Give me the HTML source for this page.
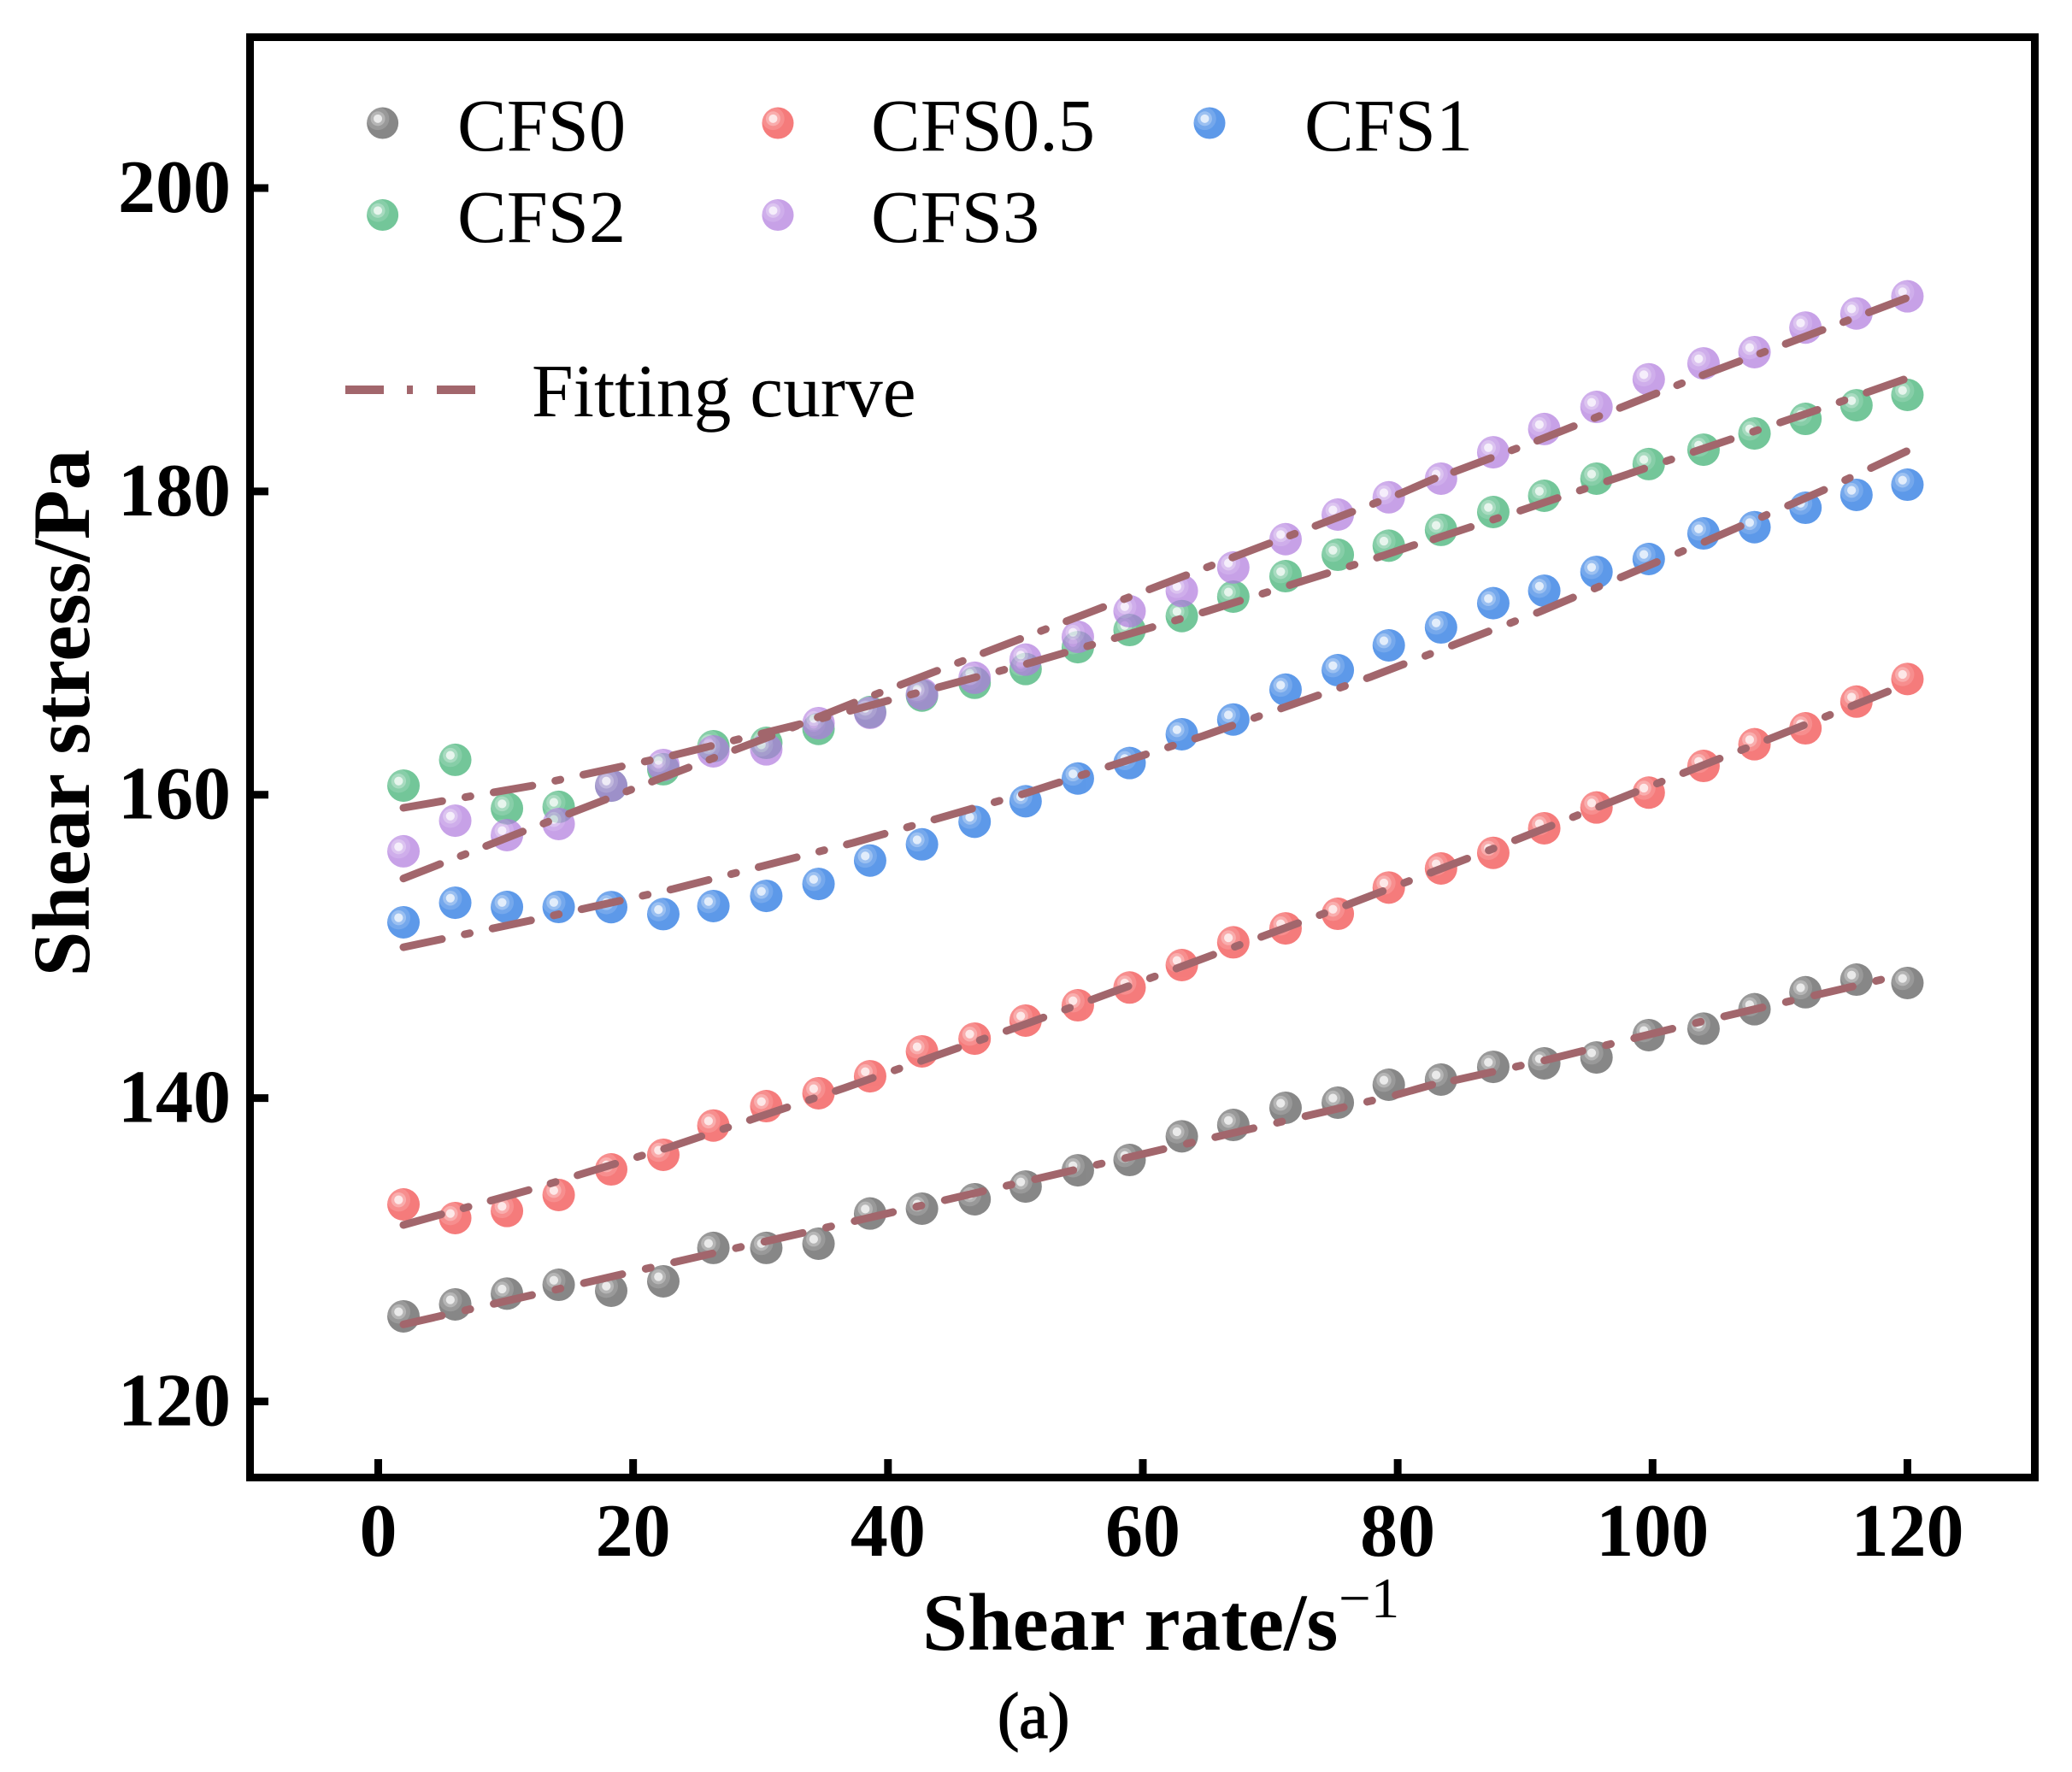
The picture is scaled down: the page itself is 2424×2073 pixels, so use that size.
<!DOCTYPE html>
<html lang="en">
<head>
<meta charset="utf-8">
<title>Shear stress vs shear rate</title>
<style>
  html, body { margin: 0; padding: 0; background: #fff; }
  svg { display: block; }
  text { font-family: "Liberation Serif", "Times New Roman", serif; fill: #000; }
  .tick-label { font-size: 88px; font-weight: 700; }
  .axis-title { font-size: 95px; font-weight: 700; }
  .legend-label { font-size: 86.5px; }
</style>
</head>
<body>
<svg id="chart" xmlns="http://www.w3.org/2000/svg" width="2424" height="2073" viewBox="0 0 2424 2073">
  <rect x="0" y="0" width="2424" height="2073" fill="#ffffff"/>
  <g id="markers"></g>
  <g id="fits"></g>
  <rect x="292.5" y="43.5" width="2088" height="1685" fill="none" stroke="#000" stroke-width="9"/>
  <g id="ticks"></g>
  <text class="axis-title" x="1079" y="1930">Shear rate/s</text>
  <text x="1566" y="1892" font-size="67">−1</text>
  <text class="axis-title" text-anchor="middle" transform="translate(104 834) rotate(-90)">Shear stress/Pa</text>
  <text x="1167" y="2033" font-size="76" stroke="#000" stroke-width="1.4">(a)</text>
  <g id="legend">
    <text class="legend-label" x="535" y="176">CFS0</text>
    <text class="legend-label" x="1019" y="176">CFS0.5</text>
    <text class="legend-label" x="1526" y="176">CFS1</text>
    <text class="legend-label" x="535" y="283">CFS2</text>
    <text class="legend-label" x="1019" y="283">CFS3</text>
    <line x1="404" y1="456" x2="556" y2="456" stroke="#A2666C" stroke-width="10" stroke-dasharray="45 27 7 28"/>
    <text class="legend-label" x="622" y="487" style="font-size:87.5px">Fitting curve</text>
  </g>
</svg>
<script>
const xTickValues = [0, 20, 40, 60, 80, 100, 120];
const yTickValues = [120, 140, 160, 180, 200];

const shearRates = [1.98, 6.04, 10.1, 14.16, 18.28, 22.37, 26.3, 30.45, 34.55, 38.6, 42.67, 46.8, 50.8, 54.9, 58.96, 63.06, 67.1, 71.2, 75.3, 79.3, 83.4, 87.5, 91.5, 95.6, 99.7, 104, 108, 112, 116, 120];

const cfs0Stress = [125.61, 126.40, 127.11, 127.69, 127.30, 127.92, 130.12, 130.12, 130.40, 132.39, 132.71, 133.33, 134.17, 135.24, 135.92, 137.48, 138.23, 139.36, 139.70, 140.88, 141.22, 142.06, 142.29, 142.68, 144.15, 144.58, 145.86, 146.98, 147.81, 147.59];
const cfs05Stress = [132.99, 132.09, 132.56, 133.61, 135.30, 136.26, 138.19, 139.47, 140.32, 141.44, 143.08, 143.92, 145.11, 146.12, 147.29, 148.77, 150.27, 151.19, 152.15, 153.88, 155.14, 156.17, 157.79, 159.16, 160.14, 161.90, 163.33, 164.38, 166.14, 167.63];
const cfs1Stress = [151.59, 152.88, 152.60, 152.60, 152.59, 152.13, 152.66, 153.33, 154.12, 155.66, 156.73, 158.22, 159.57, 161.07, 162.09, 163.99, 164.96, 166.93, 168.21, 169.85, 171.03, 172.63, 173.45, 174.69, 175.54, 177.23, 177.64, 178.92, 179.77, 180.44];
const cfs2Stress = [160.60, 162.30, 159.10, 159.20, 160.60, 161.68, 163.20, 163.42, 164.34, 165.45, 166.54, 167.38, 168.29, 169.73, 170.86, 171.78, 173.06, 174.41, 175.82, 176.42, 177.46, 178.64, 179.71, 180.84, 181.80, 182.75, 183.82, 184.78, 185.68, 186.36];
const cfs3Stress = [156.27, 158.29, 157.34, 158.07, 160.60, 161.96, 162.86, 162.99, 164.72, 165.40, 166.65, 167.71, 168.91, 170.41, 172.10, 173.44, 174.98, 176.85, 178.47, 179.61, 180.84, 182.58, 184.11, 185.57, 187.39, 188.44, 189.18, 190.80, 191.73, 192.86];

const cfs0FitRate = [1.98, 12.15, 23.11, 37.2, 51.35, 65.5, 79.66, 82.71, null, 84.42, 91.64, 103.67, 116.08, 118.23];
const cfs0FitStress = [125.08, 127.03, 129.16, 131.86, 134.62, 137.39, 140.16, 140.88, null, 141.16, 142.51, 145.01, 147.43, 147.87];
const cfs05FitRate = [1.98, 11.97, 22.91, 36.52, 50.81, 62.62, 75.97, 89.42, 102.13, 113.46, 119.96];
const cfs05FitStress = [131.64, 133.97, 136.78, 140.65, 144.88, 148.54, 152.72, 157.07, 161.34, 165.11, 167.31];
const cfs1FitRate = [1.98, 11.9, 23.18, 37.26, 50.81, 64.7, 77.91, 91.13, 104.07, 113.53, 120.1];
const cfs1FitStress = [149.95, 151.70, 153.79, 156.83, 160.10, 163.87, 167.78, 172.06, 176.67, 180.12, 182.71];
const cfs2FitRate = [1.98, 12.11, 23.04, 33.24, 40.42, 51.28, 65.03, 78.85, 81.67, null, 82.81, 89.52, 103.13, 112.72, 119.9];
const cfs2FitStress = [159.14, 160.60, 162.58, 164.68, 166.30, 168.72, 172.10, 175.76, 176.57, null, 176.84, 178.70, 182.58, 185.31, 187.43];
const cfs3FitRate = [1.98, 11.52, 21.7, 31.02, 37.67, 54.47, 67.31, 80.33, 83.35, null, 84.42, 90.92, 103.6, 113.33, 120.04];
const cfs3FitStress = [154.48, 157.63, 160.94, 163.93, 166.18, 171.59, 175.73, 179.90, 181.01, null, 181.29, 183.33, 187.56, 190.64, 192.78];

const NS = 'http://www.w3.org/2000/svg';
const xAxis = function (v) { return 442.5 + 14.908 * v; };
const yAxis = function (v) { return 1639.5 - 17.744 * (v - 120); };

function make(tag, attrs, parent) {
  const el = document.createElementNS(NS, tag);
  for (const k in attrs) el.setAttribute(k, attrs[k]);
  parent.appendChild(el);
  return el;
}

function drawSphere(parent, cx, cy, r, color) {
  const g = make('g', { transform: 'translate(' + cx + ' ' + cy + ')', opacity: 0.7 }, parent);
  const base = make('circle', { r: r, fill: color }, g);
  
  
  const hx = -r * 0.3, hy = -r * 0.28;
  make('circle', { cx: hx, cy: hy, r: r * 0.72, fill: '#fff', 'fill-opacity': 0.15 }, g);
  make('circle', { cx: hx, cy: hy, r: r * 0.46, fill: '#fff', 'fill-opacity': 0.28 }, g);
  make('circle', { cx: hx, cy: hy, r: r * 0.27, fill: '#fff', 'fill-opacity': 0.72 }, g);
  return g;
}

const markerLayer = document.getElementById('markers');
const fitLayer = document.getElementById('fits');
const tickLayer = document.getElementById('ticks');
const legendLayer = document.getElementById('legend');

function drawSeries(name, values, color) {
  const group = make('g', {}, markerLayer);
  
  
  values.forEach(function (v, i) {
    const pt = drawSphere(group, xAxis(shearRates[i]), yAxis(v), 19, color);
    
    
  });
}

function drawFit(name, rates, stresses, gap) {
  let d = '';
  let pen = 'M';
  rates.forEach(function (x, i) {
    if (x === null) { pen = 'M'; return; }
    d += pen + xAxis(x).toFixed(1) + ' ' + yAxis(stresses[i]).toFixed(1) + ' ';
    pen = 'L';
  });
  const path = make('path', {
    d: d, fill: 'none', stroke: '#A2666C', 'stroke-width': 9,
    'stroke-linecap': 'round', 'stroke-linejoin': 'round',
    'stroke-dasharray': '46 ' + gap + ' 6 ' + gap
  }, fitLayer);
  
  
}

const GRAY = '#555555', RED = '#F24444', BLUE = '#196FE1', GREEN = '#38AE6F', PURPLE = '#B07ADE';

drawSeries('cfs0', cfs0Stress, GRAY);
drawSeries('cfs05', cfs05Stress, RED);
drawSeries('cfs1', cfs1Stress, BLUE);
drawSeries('cfs2', cfs2Stress, GREEN);
drawSeries('cfs3', cfs3Stress, PURPLE);

drawFit('cfs0', cfs0FitRate, cfs0FitStress, 28.15);
drawFit('cfs05', cfs05FitRate, cfs05FitStress, 26.95);
drawFit('cfs1', cfs1FitRate, cfs1FitStress, 27.25);
drawFit('cfs2', cfs2FitRate, cfs2FitStress, 27.5);
drawFit('cfs3', cfs3FitRate, cfs3FitStress, 26);

xTickValues.forEach(function (v) {
  const px = xAxis(v);
  const t = make('line', { x1: px, x2: px, y1: 1707, y2: 1726, stroke: '#000', 'stroke-width': 9 }, tickLayer);
  
  
  const lab = make('text', { x: px, y: 1820, 'text-anchor': 'middle', class: 'tick-label' }, tickLayer);
  lab.textContent = String(v);
  
  
});

yTickValues.forEach(function (v) {
  const py = yAxis(v);
  const t = make('line', { x1: 295, x2: 314, y1: py, y2: py, stroke: '#000', 'stroke-width': 9 }, tickLayer);
  
  
  const lab = make('text', { x: 270, y: py + 28, 'text-anchor': 'end', class: 'tick-label' }, tickLayer);
  lab.textContent = String(v);
  
  
});

const legendCfs0 = drawSphere(legendLayer, 447.6, 144, 18.5, GRAY);


const legendCfs05 = drawSphere(legendLayer, 910, 144, 18.5, RED);


const legendCfs1 = drawSphere(legendLayer, 1415, 144, 18.5, BLUE);


const legendCfs2 = drawSphere(legendLayer, 447.6, 251.5, 18.5, GREEN);


const legendCfs3 = drawSphere(legendLayer, 910, 251.5, 18.5, PURPLE);


</script>
</body>
</html>
